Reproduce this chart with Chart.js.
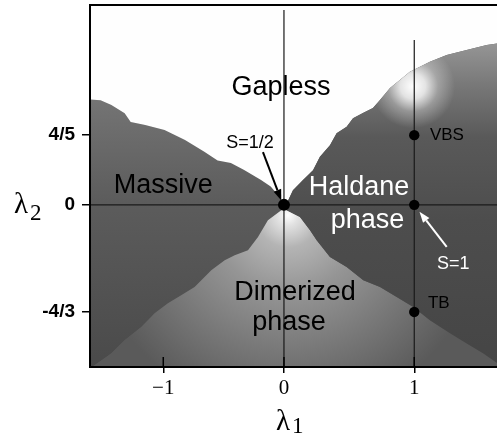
<!DOCTYPE html>
<html>
<head>
<meta charset="utf-8">
<script src="https://cdn.jsdelivr.net/npm/chart.js@4.4.1/dist/chart.umd.min.js"></script>
<style>
html,body{margin:0;padding:0;background:#fff;overflow:hidden}
#wrap{position:relative;width:497px;height:439px}
</style>
</head>
<body>
<div id="wrap"><canvas id="c"></canvas></div>
<script>
// ---------------- data (λ1, λ2 coordinates) ----------------
const lambda1Ticks = [-1, 0, 1];
const lambda1TickLabels = ['\u22121', '0', '1'];
const lambda2Ticks = [-4 / 3, 0, 4 / 5];
const lambda2TickLabels = ['-4/3', '0', '4/5'];

// phase boundaries
const boundaryGaplessMassive = [
  [-1.61, 1.21], [-1.52, 1.20], [-1.43, 1.145], [-1.32, 1.05], [-1.27, 0.95],
  [-1.15, 0.915], [-0.99, 0.86], [-0.82, 0.745], [-0.66, 0.61], [-0.55, 0.51],
  [-0.44, 0.48], [-0.33, 0.40], [-0.19, 0.285], [-0.11, 0.21], [-0.035, 0.09], [0, 0]
];
const boundaryGaplessHaldane = [
  [0, 0], [0.021, 0.016], [0.069, 0.169], [0.146, 0.284], [0.223, 0.398], [0.276, 0.551],
  [0.353, 0.685], [0.404, 0.823], [0.481, 0.896], [0.53, 0.995], [0.606, 1.053],
  [0.683, 1.11], [0.737, 1.202], [0.814, 1.34], [0.89, 1.432], [0.967, 1.527],
  [1.044, 1.584], [1.12, 1.642], [1.249, 1.719], [1.402, 1.776], [1.556, 1.834], [1.64, 1.853]
];
const boundaryMassiveDimerized = [
  [0, 0], [-0.022, -0.066], [-0.133, -0.191], [-0.215, -0.399], [-0.298, -0.564],
  [-0.408, -0.627], [-0.491, -0.689], [-0.602, -0.814], [-0.74, -1.022], [-0.851, -1.125],
  [-0.961, -1.225], [-1.071, -1.35], [-1.182, -1.52], [-1.32, -1.686], [-1.431, -1.852],
  [-1.569, -1.998], [-1.61, -2.03]
];
const boundaryHaldaneDimerized = [
  [0, 0], [0.021, -0.066], [0.123, -0.15], [0.2, -0.315], [0.251, -0.44], [0.353, -0.648],
  [0.481, -0.773], [0.609, -0.938], [0.737, -1.022], [0.865, -1.146], [0.992, -1.271],
  [1.12, -1.437], [1.274, -1.599], [1.402, -1.727], [1.53, -1.852], [1.64, -1.976]
];

// special points
const pointNames = ['S=1/2', 'S=1', 'VBS', 'TB'];
const pointLambda1 = [0, 1, 1, 1];
const pointLambda2 = [0, 0, 4 / 5, -4 / 3];

// reference lines
const refLambda1Zero = [[0, 2.235], [0, -2.2]];
const refLambda1One = [[1, 1.891], [1, -2.2]];
const refLambda2Zero = [[-1.8, 0], [1.8, 0]];

// ---------------- axis geometry (non-uniform axes of the original) ----------------
const X_NEG_STRETCH = 0.9263, Y_NEG_STRETCH = 0.9213;
const X_RANGE = [-1.4886, 1.635];   // in scale units
const Y_RANGE = [-1.860, 2.293];
const FAR = 5;

class WarpedLinearScale extends Chart.LinearScale {
  _k() { return this.axis === 'x' ? X_NEG_STRETCH : Y_NEG_STRETCH; }
  getPixelForValue(value) {
    if (value === null || value === undefined || isNaN(value)) return NaN;
    const v = value < 0 ? value * this._k() : value;
    return super.getPixelForValue(v);
  }
  getValueForPixel(pixel) {
    const v = super.getValueForPixel(pixel);
    return v < 0 ? v / this._k() : v;
  }
}
WarpedLinearScale.id = 'warpedLinear';
WarpedLinearScale.defaults = Chart.LinearScale.defaults;
Chart.register(WarpedLinearScale);

// ---------------- polygons from boundaries ----------------
const lastGH = boundaryGaplessHaldane[boundaryGaplessHaldane.length - 1];
const lastHD = boundaryHaldaneDimerized[boundaryHaldaneDimerized.length - 1];
const firstGM = boundaryGaplessMassive[0];

const gaplessPoly = [[-FAR, FAR], [-FAR, firstGM[1]], ...boundaryGaplessMassive,
  ...boundaryGaplessHaldane.slice(1), [FAR, lastGH[1]], [FAR, FAR]];
const massivePoly = [[-FAR, firstGM[1]], ...boundaryGaplessMassive,
  ...boundaryMassiveDimerized.slice(1), [-FAR, -FAR]];
const dimerizedPoly = [...boundaryMassiveDimerized, [-FAR, -FAR], [FAR, -FAR], [FAR, lastHD[1]],
  ...boundaryHaldaneDimerized.slice().reverse()];
const haldanePoly = [...boundaryGaplessHaldane, [FAR, lastGH[1]], [FAR, lastHD[1]],
  ...boundaryHaldaneDimerized.slice().reverse()];

const toXY = arr => arr.map(([x, y]) => ({ x, y }));

// ---------------- fills ----------------
function ready(c) { return c.chart.chartArea && c.chart.scales.x && c.chart.scales.y; }
function massiveFill(c) {
  if (!ready(c)) return '#5a5a5a';
  const { ctx, scales: { y } } = c.chart;
  const g = ctx.createLinearGradient(0, y.getPixelForValue(1.21), 0, y.getPixelForValue(-2.02));
  g.addColorStop(0, '#747474');
  g.addColorStop(0.38, '#5c5c5c');
  g.addColorStop(1, '#4a4a4a');
  return g;
}
function dimerizedFill(c) {
  if (!ready(c)) return '#8a8a8a';
  const { ctx, scales: { x, y } } = c.chart;
  const cx = x.getPixelForValue(0.03), cy = y.getPixelForValue(-0.13);
  const g = ctx.createRadialGradient(cx, cy, 0, cx, cy, 200);
  g.addColorStop(0, '#ffffff');
  g.addColorStop(0.05, '#e2e2e2');
  g.addColorStop(0.16, '#b4b4b4');
  g.addColorStop(0.38, '#959595');
  g.addColorStop(0.68, '#787878');
  g.addColorStop(1, '#5a5a5a');
  return g;
}
function haldaneFill(c) {
  if (!ready(c)) return '#4e4e4e';
  const { ctx, scales: { y } } = c.chart;
  const g = ctx.createLinearGradient(0, y.getPixelForValue(1.9), 0, y.getPixelForValue(-2.02));
  g.addColorStop(0, '#989898');
  g.addColorStop(0.14, '#787878');
  g.addColorStop(0.3, '#595959');
  g.addColorStop(0.55, '#4d4d4d');
  g.addColorStop(1, '#454545');
  return g;
}
function haldaneGlow(c) {
  if (!ready(c)) return 'rgba(255,255,255,0)';
  const { ctx, scales: { x, y } } = c.chart;
  const cx = x.getPixelForValue(0.99), cy = y.getPixelForValue(1.36);
  const g = ctx.createRadialGradient(cx, cy, 0, cx, cy, 42);
  g.addColorStop(0, 'rgba(255,255,255,1)');
  g.addColorStop(0.3, 'rgba(255,255,255,0.8)');
  g.addColorStop(0.6, 'rgba(255,255,255,0.3)');
  g.addColorStop(1, 'rgba(255,255,255,0)');
  return g;
}

function polygon(label, pts, color, order) {
  return {
    label, data: toXY(pts), showLine: true, fill: 'shape', backgroundColor: color,
    borderWidth: 0, borderColor: 'rgba(0,0,0,0)', pointRadius: 0, pointHoverRadius: 0,
    tension: 0, order
  };
}
function refLine(label, pts) {
  return {
    label, data: toXY(pts), showLine: true, fill: false, borderColor: '#1a1a1a',
    borderWidth: 1.2, pointRadius: 0, pointHoverRadius: 0, tension: 0, order: 2
  };
}

const datasets = [
  polygon('Massive', massivePoly, massiveFill, 10),
  polygon('Gapless', gaplessPoly, '#fefefe', 9),
  polygon('Dimerized phase', dimerizedPoly, dimerizedFill, 8),
  polygon('Haldane phase', haldanePoly, haldaneFill, 7),
  polygon('Haldane glow', haldanePoly, haldaneGlow, 6),
  refLine('λ1=0', refLambda1Zero),
  refLine('λ1=1', refLambda1One),
  refLine('λ2=0', refLambda2Zero),
  {
    label: 'special points',
    data: pointLambda1.map((v, i) => ({ x: v, y: pointLambda2[i] })),
    showLine: false,
    pointRadius: c => (c.dataIndex === 0 ? 6 : 5.2),
    pointHoverRadius: c => (c.dataIndex === 0 ? 6 : 5.2),
    pointBackgroundColor: '#000', pointBorderWidth: 0, order: 1
  }
];

// ---------------- labels ----------------
const REGION_FONT = '27px "Liberation Sans", Arial, sans-serif';
const SMALL_FONT = '17px "Liberation Sans", Arial, sans-serif';
const MID_FONT = '18px "Liberation Sans", Arial, sans-serif';
const textLabels = [
  { text: 'Gapless', at: [-0.025, 1.265], font: REGION_FONT, color: '#000', align: 'center' },
  { text: 'Massive', at: [-1.0, 0.14], font: REGION_FONT, color: '#000', align: 'center' },
  { text: 'Haldane', at: [0.576, 0.111], font: REGION_FONT, color: '#fff', align: 'center' },
  { text: 'phase', at: [0.641, -0.29], font: REGION_FONT, color: '#fff', align: 'center' },
  { text: 'Dimerized', at: [0.084, -1.188], font: REGION_FONT, color: '#000', align: 'center' },
  { text: 'phase', at: [0.038, -1.561], font: REGION_FONT, color: '#000', align: 'center' },
  { text: pointNames[0], at: [-0.282, 0.648], font: MID_FONT, color: '#000', align: 'center' },
  { text: pointNames[1], at: [1.174, -0.795], font: MID_FONT, color: '#fff', align: 'left' },
  { text: pointNames[2], at: [1.12, 0.743], font: SMALL_FONT, color: '#000', align: 'left' },
  { text: pointNames[3], at: [1.105, -1.287], font: SMALL_FONT, color: '#000', align: 'left' }
];
const arrows = [
  { from: [-0.174, 0.605], to: [-0.022, 0.05], color: '#000' },
  { from: [1.249, -0.523], to: [1.04, -0.085], color: '#fff' }
];

function drawArrow(ctx, x1, y1, x2, y2, color) {
  const ang = Math.atan2(y2 - y1, x2 - x1);
  const hl = 11, hw = 4;
  const bx = x2 - hl * Math.cos(ang), by = y2 - hl * Math.sin(ang);
  ctx.save();
  ctx.strokeStyle = color; ctx.fillStyle = color; ctx.lineWidth = 2;
  ctx.beginPath(); ctx.moveTo(x1, y1); ctx.lineTo(bx, by); ctx.stroke();
  ctx.beginPath();
  ctx.moveTo(x2, y2);
  ctx.lineTo(bx + hw * Math.sin(ang), by - hw * Math.cos(ang));
  ctx.lineTo(bx - hw * Math.sin(ang), by + hw * Math.cos(ang));
  ctx.closePath(); ctx.fill();
  ctx.restore();
}

const decor = {
  id: 'decor',
  beforeDatasetsDraw(chart) {
    const { ctx, chartArea: a } = chart;
    ctx.save(); ctx.fillStyle = '#5a5a5a';
    ctx.fillRect(a.left, a.top, a.right - a.left, a.bottom - a.top);
    ctx.restore();
  },
  afterDraw(chart) {
    const { ctx, chartArea: a, scales: { x, y } } = chart;
    ctx.save();
    // top frame line
    ctx.strokeStyle = '#000'; ctx.lineWidth = 2;
    ctx.beginPath(); ctx.moveTo(a.left - 1, a.top); ctx.lineTo(a.right, a.top); ctx.stroke();
    // inner part of the λ1 ticks
    ctx.lineWidth = 1.5;
    ctx.beginPath();
    for (const v of lambda1Ticks) {
      const px = x.getPixelForValue(v);
      ctx.moveTo(px, a.bottom); ctx.lineTo(px, a.bottom - 10);
    }
    ctx.stroke();
    ctx.restore();

    for (const ar of arrows) {
      drawArrow(ctx, x.getPixelForValue(ar.from[0]), y.getPixelForValue(ar.from[1]),
        x.getPixelForValue(ar.to[0]), y.getPixelForValue(ar.to[1]), ar.color);
    }
    for (const t of textLabels) {
      ctx.save();
      ctx.font = t.font; ctx.fillStyle = t.color; ctx.textAlign = t.align;
      ctx.textBaseline = 'alphabetic';
      ctx.fillText(t.text, x.getPixelForValue(t.at[0]), y.getPixelForValue(t.at[1]));
      ctx.restore();
    }
    // axis titles λ1, λ2
    ctx.save();
    ctx.fillStyle = '#000'; ctx.textAlign = 'left'; ctx.textBaseline = 'alphabetic';
    const x0 = x.getPixelForValue(0);
    ctx.font = '29px "Liberation Serif", "Times New Roman", serif';
    ctx.fillText('λ', x0 - 8, a.bottom + 63);
    ctx.font = '23px "Liberation Serif", "Times New Roman", serif';
    ctx.fillText('1', x0 + 8, a.bottom + 66);
    const y0 = y.getPixelForValue(0);
    ctx.font = '29px "Liberation Serif", "Times New Roman", serif';
    ctx.fillText('λ', a.left - 76, y0 + 8);
    ctx.font = '23px "Liberation Serif", "Times New Roman", serif';
    ctx.fillText('2', a.left - 60, y0 + 15);
    ctx.restore();
  }
};

function noPad(s) { s.paddingTop = 0; s.paddingBottom = 0; s.paddingLeft = 0; s.paddingRight = 0; }

new Chart(document.getElementById('c'), {
  type: 'scatter',
  data: { datasets },
  options: {
    responsive: true, maintainAspectRatio: false, animation: false, events: [],
    layout: { autoPadding: false, padding: { top: 5, right: 0, bottom: 0, left: 0 } },
    plugins: { legend: { display: false }, tooltip: { enabled: false } },
    scales: {
      x: {
        type: 'warpedLinear', min: X_RANGE[0], max: X_RANGE[1], bounds: 'data',
        afterBuildTicks: s => { s.ticks = lambda1Ticks.map(v => ({ value: v })); },
        afterFit: s => { s.height = 72; noPad(s); },
        ticks: {
          autoSkip: false, maxRotation: 0, padding: 3, color: '#000',
          font: { family: '"Liberation Serif", "Times New Roman", serif', size: 21 },
          callback: (v, i) => lambda1TickLabels[i]
        },
        grid: { display: true, drawOnChartArea: false, drawTicks: true, tickLength: 6, color: '#000', lineWidth: 1.5 },
        border: { display: true, color: '#000', width: 2, z: 1 }
      },
      y: {
        type: 'warpedLinear', min: Y_RANGE[0], max: Y_RANGE[1], bounds: 'data',
        afterBuildTicks: s => { s.ticks = lambda2Ticks.map(v => ({ value: v })); },
        afterFit: s => { s.width = 90; noPad(s); },
        ticks: {
          autoSkip: false, padding: 7, color: '#000',
          font: { family: '"Liberation Sans", Arial, sans-serif', size: 19, weight: 'bold' },
          callback: (v, i) => lambda2TickLabels[i]
        },
        grid: { display: true, drawOnChartArea: false, drawTicks: true, tickLength: 8, color: '#000', lineWidth: 1.5 },
        border: { display: true, color: '#000', width: 2, z: 1 }
      }
    }
  },
  plugins: [decor]
});
</script>
</body>
</html>
